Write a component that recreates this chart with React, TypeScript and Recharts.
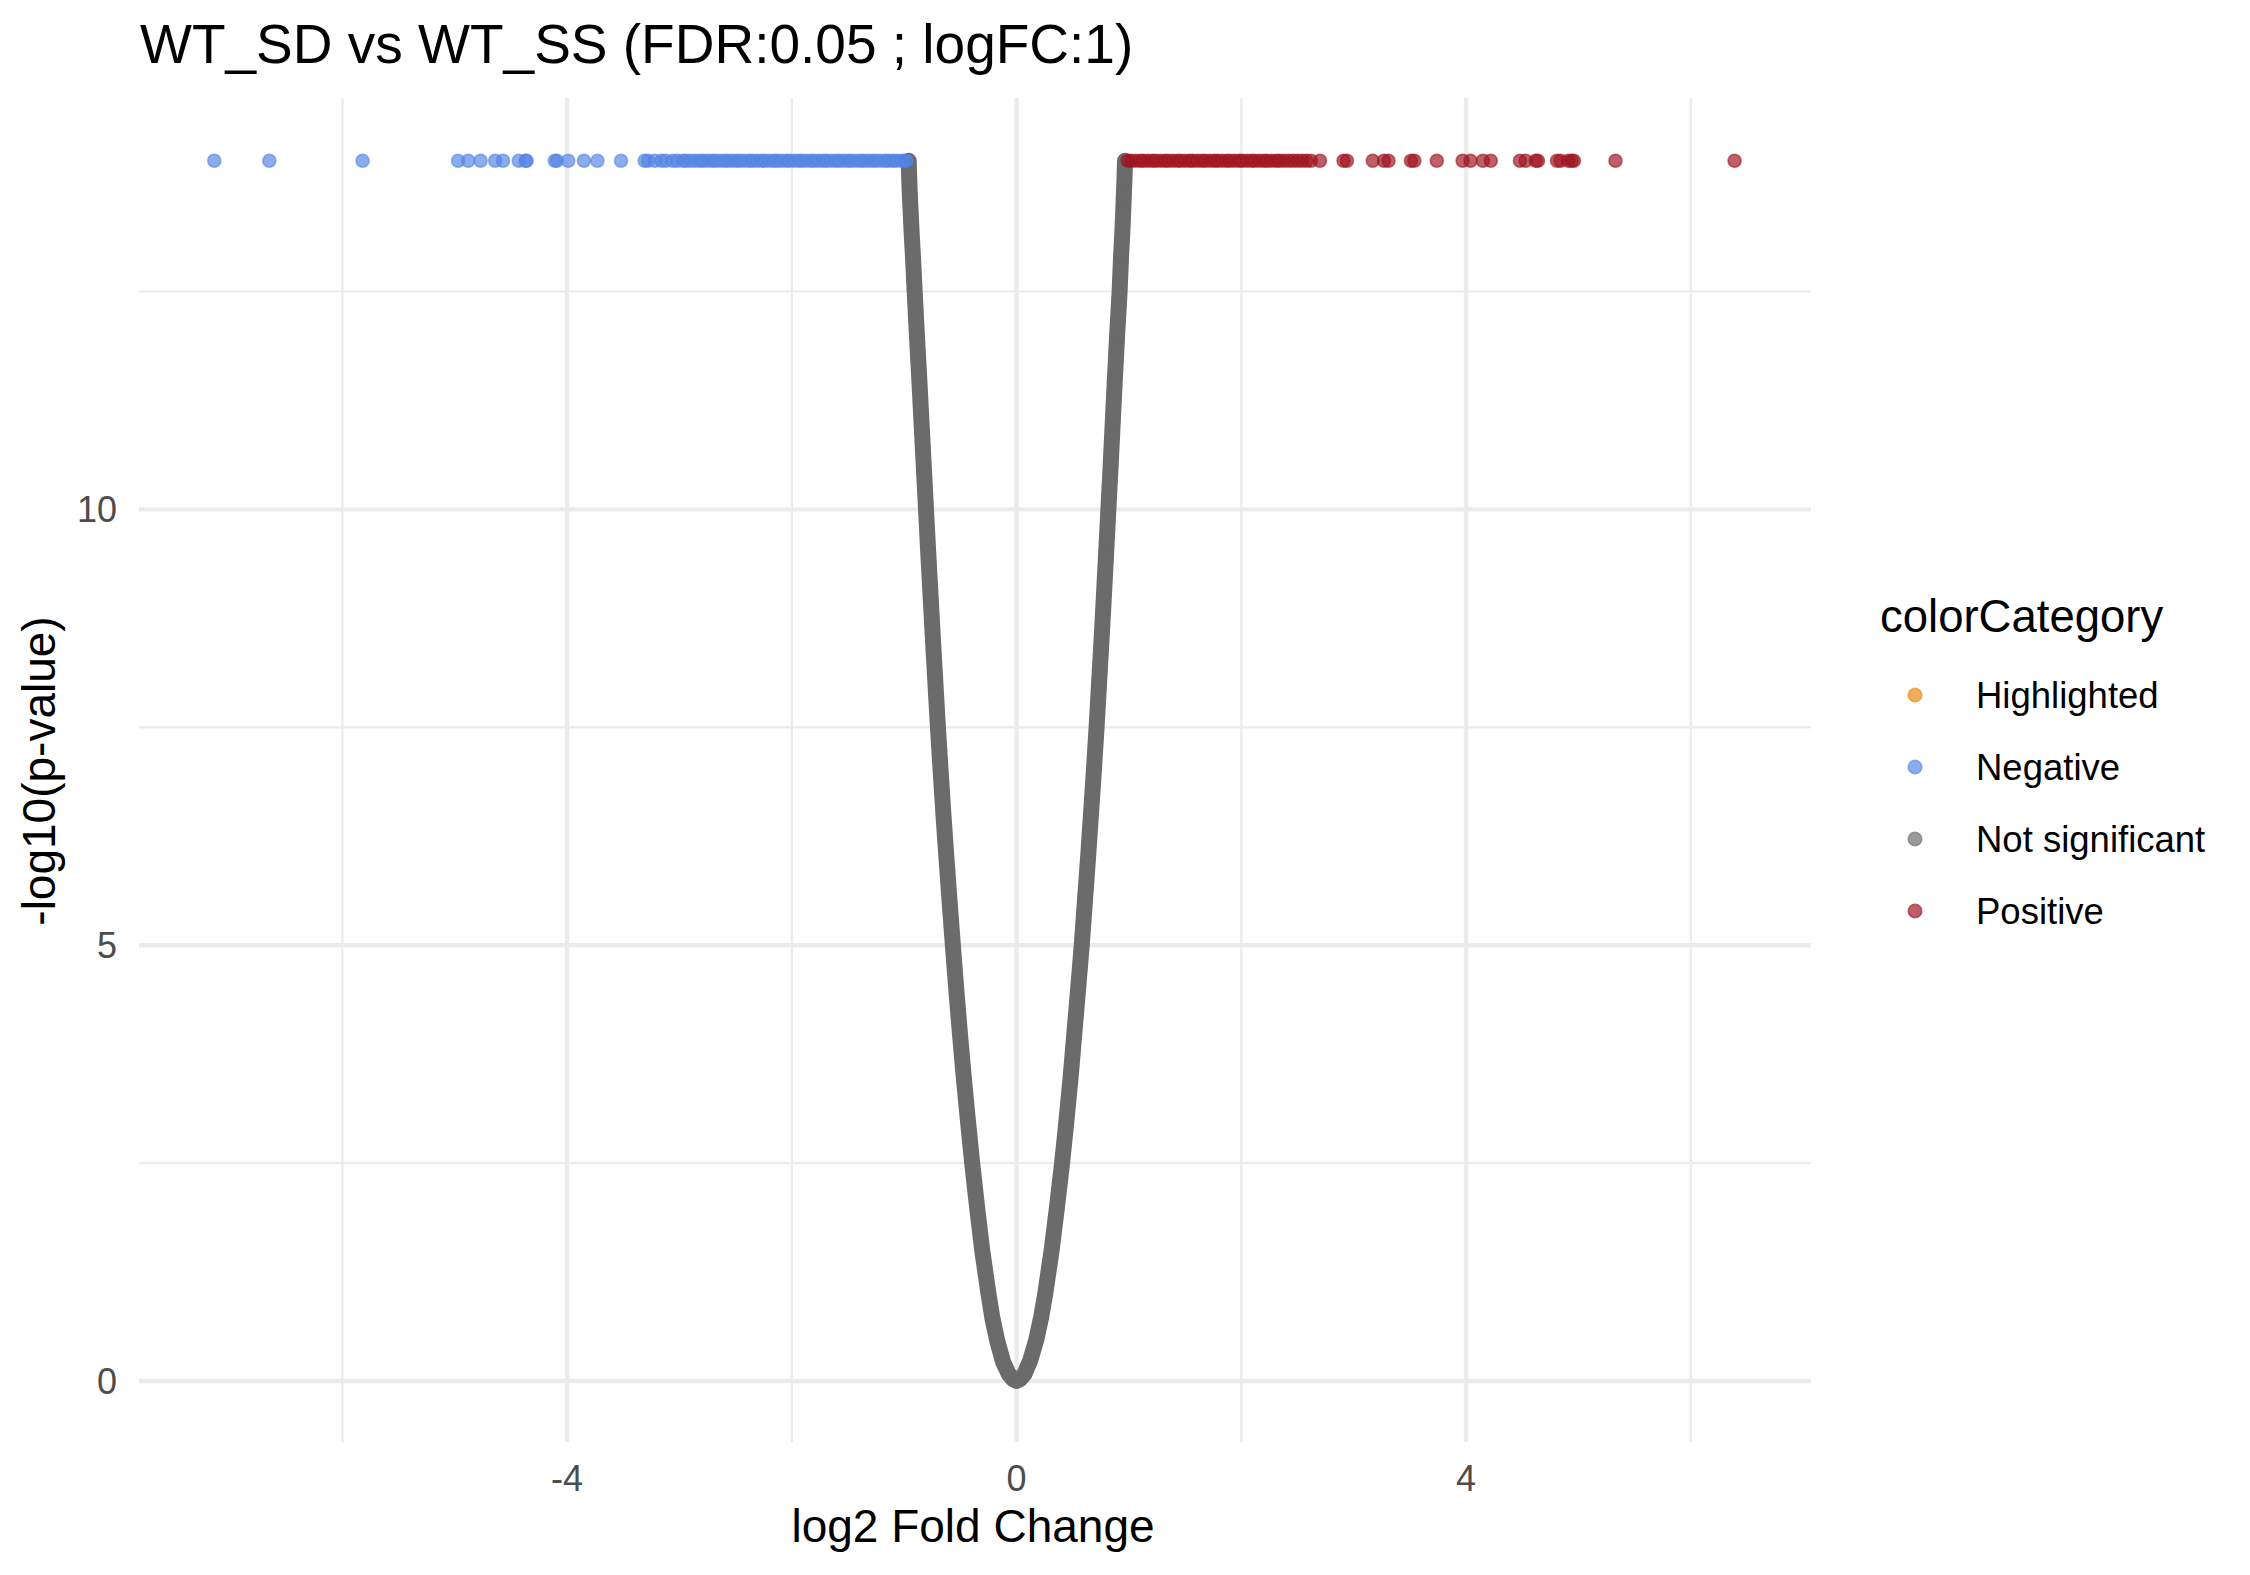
import { ScatterChart, Scatter, XAxis, YAxis, CartesianGrid } from "recharts";

const FONT = "'Liberation Sans', Arial, Helvetica, sans-serif";

// -log10(p) is capped, every significant gene sits on the same top row
const capNegLog10P = 14.0;

const negativeLogFC = [
  -7.14, -6.65, -5.82, -4.97, -4.88, -4.77, -4.64, -4.57, -4.43, -4.37, -4.36,
  -4.11, -4.09, -3.99, -3.85, -3.73, -3.52, -3.31, -3.28, -3.22, -3.16, -3.12,
  -3.06, -3.02, -2.97, -2.94, -2.9, -2.86, -2.82, -2.79, -2.75, -2.71, -2.68,
  -2.64, -2.6, -2.57, -2.53, -2.49, -2.46, -2.42, -2.38, -2.35, -2.31, -2.27,
  -2.24, -2.2, -2.16, -2.13, -2.09, -2.05, -2.02, -1.98, -1.94, -1.91, -1.87,
  -1.83, -1.8, -1.76, -1.72, -1.69, -1.65, -1.61, -1.58, -1.54, -1.5, -1.47,
  -1.43, -1.39, -1.36, -1.32, -1.28, -1.25, -1.21, -1.17, -1.14, -1.1, -1.07,
  -1.03, -1.0, -0.98,
];

const positiveLogFC = [
  0.99, 1.02, 1.06, 1.1, 1.13, 1.17, 1.21, 1.24, 1.28, 1.32, 1.35, 1.39, 1.43,
  1.46, 1.5, 1.54, 1.57, 1.61, 1.65, 1.68, 1.72, 1.76, 1.79, 1.83, 1.87, 1.9,
  1.94, 1.98, 2.01, 2.05, 2.09, 2.12, 2.16, 2.2, 2.23, 2.27, 2.31, 2.34, 2.38,
  2.42, 2.46, 2.5, 2.54, 2.58, 2.62, 2.7, 2.91, 2.94, 3.17, 3.27, 3.31, 3.51,
  3.54, 3.74, 3.97, 4.04, 4.15, 4.22, 4.48, 4.53, 4.62, 4.64, 4.81, 4.84, 4.91,
  4.94, 4.96, 5.33, 6.39,
];

// not significant genes, traced from the top of the left arm down and up the right arm
const notSigLogFC = [
  -0.96, -0.955, -0.95, -0.945, -0.935, -0.922, -0.907, -0.887, -0.866, -0.846,
  -0.826, -0.806, -0.786, -0.765, -0.744, -0.722, -0.7, -0.676, -0.651, -0.624,
  -0.596, -0.567, -0.537, -0.505, -0.471, -0.434, -0.395, -0.352, -0.306, -0.25,
  -0.215, -0.17, -0.12, -0.07, -0.03, 0, 0.03, 0.07, 0.12, 0.175, 0.22, 0.255,
  0.312, 0.36, 0.405, 0.445, 0.482, 0.515, 0.548, 0.58, 0.608, 0.636, 0.662,
  0.688, 0.712, 0.734, 0.756, 0.777, 0.797, 0.817, 0.837, 0.856, 0.875, 0.895,
  0.917, 0.93, 0.942, 0.95, 0.955, 0.96, 0.965,
];
const notSigNegLogP = [
  14.0, 13.78, 13.62, 13.48, 13.2, 12.9, 12.5, 12.0, 11.5, 11.0, 10.5, 10.0,
  9.5, 9.0, 8.5, 8.0, 7.5, 7.0, 6.5, 6.0, 5.5, 5.0, 4.5, 4.0, 3.5, 3.0, 2.5,
  2.0, 1.5, 1.0, 0.72, 0.45, 0.22, 0.08, 0.02, 0, 0.02, 0.08, 0.23, 0.47, 0.74,
  1.0, 1.5, 2.0, 2.5, 3.0, 3.5, 4.0, 4.5, 5.0, 5.5, 6.0, 6.5, 7.0, 7.5, 8.0,
  8.5, 9.0, 9.5, 10.0, 10.5, 11.0, 11.5, 12.0, 12.5, 12.9, 13.2, 13.45, 13.62,
  13.78, 14.0,
];

const xMajorTicks = [-4, 0, 4];
const xMinorTicks = [-6, -2, 2, 6];
const yMajorTicks = [0, 5, 10];
const yMinorTicks = [2.5, 7.5, 12.5];

const legendLabels = ["Highlighted", "Negative", "Not significant", "Positive"];
const legendColors = ["#E8870F", "#5484E4", "#6B6B6B", "#9E1420"];

const negativeData = negativeLogFC.map((x) => ({ x, y: capNegLog10P }));
const positiveData = positiveLogFC.map((x) => ({ x, y: capNegLog10P }));
const notSigData = notSigLogFC.map((x, i) => ({ x, y: notSigNegLogP[i] }));

function dotShape(color: string) {
  return (props: any) => (
    <circle
      cx={props.cx}
      cy={props.cy}
      r={6.5}
      fill={color}
      fillOpacity={0.68}
      stroke={color}
      strokeOpacity={0.6}
      strokeWidth={1.6}
    />
  );
}

export default function App() {
  return (
    <div style={{ position: "absolute", left: 0, top: 0, width: 2250, height: 1575, background: "#fff" }}>
      <ScatterChart width={2250} height={1575} margin={{ top: 98, right: 439, bottom: 0, left: 0 }}>
        <CartesianGrid
          stroke="#EBEBEB"
          strokeWidth={2.2}
          verticalValues={xMinorTicks}
          horizontalValues={yMinorTicks}
        />
        <CartesianGrid
          stroke="#EBEBEB"
          strokeWidth={4.4}
          verticalValues={xMajorTicks}
          horizontalValues={yMajorTicks}
        />
        <XAxis
          type="number"
          dataKey="x"
          domain={[-7.81, 7.07]}
          allowDataOverflow
          ticks={xMajorTicks}
          height={133}
          axisLine={false}
          tickLine={false}
          tickSize={0}
          tickMargin={23}
          tick={{ fontSize: 36, fill: "#4D4D4D", fontFamily: FONT }}
        />
        <YAxis
          type="number"
          dataKey="y"
          domain={[-0.7, 14.72]}
          allowDataOverflow
          ticks={yMajorTicks}
          width={139}
          axisLine={false}
          tickLine={false}
          tickSize={0}
          tickMargin={22}
          tick={{ fontSize: 36, fill: "#4D4D4D", fontFamily: FONT }}
        />
        <Scatter
          data={notSigData}
          fill="#6B6B6B"
          line={{ stroke: "#6B6B6B", strokeWidth: 16, strokeLinecap: "round", strokeLinejoin: "round" }}
          lineType="joint"
          shape={dotShape("#6B6B6B")}
          isAnimationActive={false}
        />
        <Scatter data={negativeData} fill="#5484E4" shape={dotShape("#5484E4")} isAnimationActive={false} />
        <Scatter data={positiveData} fill="#9E1420" shape={dotShape("#9E1420")} isAnimationActive={false} />
      </ScatterChart>

      <svg
        width={2250}
        height={1575}
        style={{ position: "absolute", left: 0, top: 0, pointerEvents: "none" }}
        fontFamily={FONT}
      >
        <text x={140} y={63} fontSize={55} fill="#000">
          WT_SD vs WT_SS (FDR:0.05 ; logFC:1)
        </text>
        <text x={973} y={1542} fontSize={46} fill="#000" textAnchor="middle">
          log2 Fold Change
        </text>
        <text transform="translate(55,771) rotate(-90)" fontSize={46} fill="#000" textAnchor="middle">
          -log10(p-value)
        </text>
        <text x={1880} y={632} fontSize={45.5} fill="#000">
          colorCategory
        </text>
        {legendLabels.map((label, i) => (
          <g key={label}>
            <circle
              cx={1915}
              cy={695 + i * 72}
              r={6.8}
              fill={legendColors[i]}
              fillOpacity={0.68}
              stroke={legendColors[i]}
              strokeOpacity={0.6}
              strokeWidth={1.6}
            />
            <text x={1976} y={707.5 + i * 72} fontSize={36.5} fill="#000">
              {label}
            </text>
          </g>
        ))}
      </svg>
    </div>
  );
}
